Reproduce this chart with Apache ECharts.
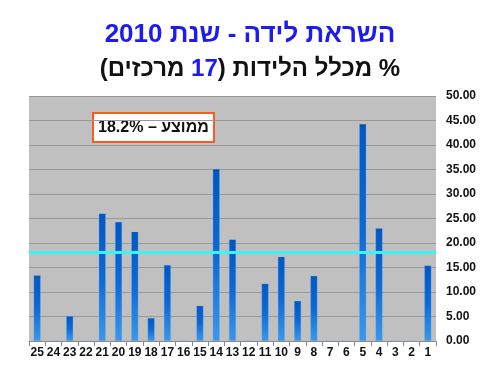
<!DOCTYPE html>
<html>
<head>
<meta charset="utf-8">
<script src="https://cdn.jsdelivr.net/npm/echarts@6/dist/echarts.min.js"></script>
<style>html,body{margin:0;padding:0;background:#fff;}#c{width:500px;height:375px;}</style>
</head>
<body>
<div id="c"></div>
<script>
// Centers, as shown left to right
var categories = ['25','24','23','22','21','20','19','18','17','16','15','14','13','12','11','10','9','8','7','6','5','4','3','2','1'];
var inductionRate = [13.4, 0, 5.1, 0, 26.0, 24.3, 22.3, 4.7, 15.5, 0, 7.2, 35.1, 20.7, 0, 11.7, 17.2, 8.2, 13.3, 0, 0, 44.3, 23.0, 0, 0, 15.4];
var averageRate = 18.2;
var yTicks = [0, 5, 10, 15, 20, 25, 30, 35, 40, 45, 50];

var chart = echarts.init(document.getElementById('c'), null, {renderer: 'canvas'});
var FONT = '"Liberation Sans", Arial, "DejaVu Sans", sans-serif';
chart.setOption({
  animation: false,
  backgroundColor: '#ffffff',
  title: [
    {
      text: 'השראת לידה - שנת 2010',
      left: 'center', top: 17,
      textStyle: {fontFamily: FONT, fontSize: 26, fontWeight: 'bold', color: '#1c1cee'}
    },
    {
      // visual (left-to-right) order of: "% מכלל הלידות (17 מרכזים)"
      text: '{k|(מרכזים }{b|17}{k|) מכלל הלידות %}',
      left: 'center', top: 52,
      textStyle: {
        rich: {
          k: {fontFamily: FONT, fontSize: 24, fontWeight: 'bold', color: '#111111'},
          b: {fontFamily: FONT, fontSize: 24, fontWeight: 'bold', color: '#1c1cee'}
        }
      }
    }
  ],
  grid: {left: 29, right: 64, top: 96, bottom: 34, show: true, backgroundColor: '#c0c0c0', borderWidth: 0},
  xAxis: {
    type: 'category',
    data: categories,
    axisLine: {lineStyle: {color: '#8a8a8a', width: 1}},
    axisTick: {show: true, length: 5, lineStyle: {color: '#8a8a8a'}},
    axisLabel: {fontFamily: FONT, fontSize: 12, fontWeight: 'bold', color: '#111', margin: 6, interval: 0}
  },
  yAxis: {
    type: 'value',
    position: 'right',
    min: yTicks[0], max: yTicks[yTicks.length - 1], interval: 5,
    axisLine: {show: false},
    axisTick: {show: false},
    splitLine: {lineStyle: {color: '#999999', width: 1}},
    axisLabel: {fontFamily: FONT, fontSize: 12, fontWeight: 'bold', color: '#111', margin: 10,
      formatter: function (v) { return v.toFixed(2); }}
  },
  series: [{
    type: 'bar',
    data: inductionRate,
    barWidth: 7,
    itemStyle: {
      color: new echarts.graphic.LinearGradient(0, 0, 0, 1, [
        {offset: 0, color: '#003c9a'},
        {offset: 0.015, color: '#0058c4'},
        {offset: 0.5, color: '#0a6ad6'},
        {offset: 1, color: '#3a98ea'}
      ]),
      borderColor: 'rgba(120,170,230,0.6)',
      borderWidth: 0.5
    },
    markLine: {
      silent: true,
      symbol: 'none',
      label: {show: false},
      lineStyle: {color: '#38f4f4', width: 3, type: 'solid'},
      data: [{yAxis: averageRate}]
    }
  }],
  graphic: [{
    type: 'group',
    left: 92, top: 112,
    children: [
      {type: 'rect', shape: {x: 0, y: 0, width: 121, height: 29},
       style: {fill: '#ffffff', stroke: '#ff5a1e', lineWidth: 2}},
      {type: 'text', x: 60.5, y: 15,
       style: {text: 'ממוצע – ' + averageRate.toFixed(1) + '%', font: 'bold 16px ' + FONT,
               fill: '#111', textAlign: 'center', textVerticalAlign: 'middle'}}
    ]
  }]
});
</script>
</body>
</html>
